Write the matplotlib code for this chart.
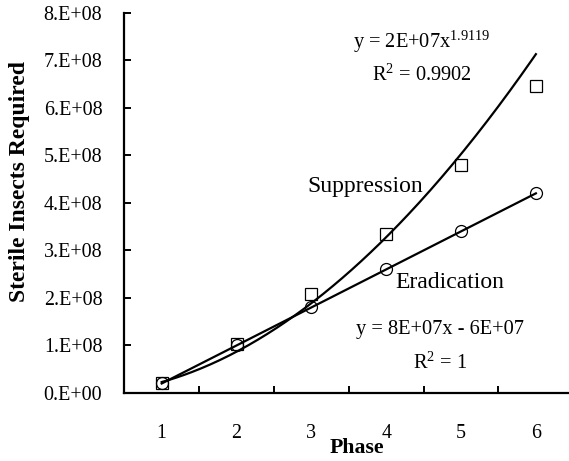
import numpy as np
import matplotlib
matplotlib.use("Agg")
import matplotlib.pyplot as plt
from matplotlib.ticker import FixedLocator

# data
phase = [1, 2, 3, 4, 5, 6]
suppression = [2.0e7, 1.03e8, 2.08e8, 3.35e8, 4.80e8, 6.45e8]
eradication = [2.0e7, 1.0e8, 1.8e8, 2.6e8, 3.4e8, 4.2e8]
y_ticks = [0, 1e8, 2e8, 3e8, 4e8, 5e8, 6e8, 7e8, 8e8]
y_tick_labels = ["0.E+00", "1.E+08", "2.E+08", "3.E+08", "4.E+08",
                 "5.E+08", "6.E+08", "7.E+08", "8.E+08"]

plt.rcParams['font.family'] = ['Liberation Serif', 'DejaVu Serif']
plt.rcParams['mathtext.fontset'] = 'custom'
plt.rcParams['mathtext.rm'] = 'Liberation Serif'
fs = 14.4      # tick labels
fs_eq = 14.7   # trendline equations
fs_lab = 17    # series names
fs_ax = 15.7   # axis titles

fig = plt.figure(figsize=(5.69, 4.61), dpi=100)
ax = fig.add_axes([124.3 / 569, 68 / 461, 449 / 569, 380.3 / 461])

x = np.array(phase, dtype=float)
ys = np.array(suppression)
ye = np.array(eradication)

# trend lines (power fit for suppression, linear for eradication)
b, ln_a = np.polyfit(np.log(x), np.log(ys), 1)
xs = np.linspace(1, 6, 200)
ax.plot(xs, np.exp(ln_a) * xs ** b, color='black', lw=1.6)
m, c = np.polyfit(x, ye, 1)
ax.plot([1, 6], [m * 1 + c, m * 6 + c], color='black', lw=1.6)

ax.plot(x, ys, linestyle='none', marker='s', markersize=8.6,
        markerfacecolor='none', markeredgecolor='black', markeredgewidth=0.9)
ax.plot(x, ye, linestyle='none', marker='o', markersize=8.6,
        markerfacecolor='none', markeredgecolor='black', markeredgewidth=0.9)

ax.set_xlim(0.5, 6.5)
ax.set_ylim(0, 8e8)
for s in ['top', 'right']:
    ax.spines[s].set_visible(False)
for s in ['left', 'bottom']:
    ax.spines[s].set_linewidth(1.6)

ax.set_yticks(y_ticks)
ax.set_yticklabels(y_tick_labels, fontsize=fs)
ax.tick_params(axis='y', direction='in', length=5, width=1.4, pad=15.8)

ax.set_xticks(phase)
ax.set_xticklabels([str(p) for p in phase], fontsize=fs)
ax.xaxis.set_minor_locator(FixedLocator([p + 0.5 for p in phase]))
ax.tick_params(axis='x', which='major', length=0, pad=22)
ax.tick_params(axis='x', which='minor', direction='in', length=5, width=1.4)

ax.set_xlabel("Phase", fontsize=fs_ax, fontweight='bold')
ax.xaxis.set_label_coords(0.519, -0.118)
ax.set_ylabel("Sterile Insects Required", fontsize=17, fontweight='bold')
ax.yaxis.set_label_coords(-0.21, 0.555)

ax.text(4.48, 7.39e8, "y = 2E+07x$^{1.9119}$", fontsize=fs_eq,
        ha='center', va='center')
ax.text(4.48, 6.69e8, "R$^{2}$ = 0.9902", fontsize=fs_eq,
        ha='center', va='center')
ax.text(3.72, 4.34e8, "Suppression", fontsize=fs_lab, ha='center', va='center')
ax.text(4.855, 2.32e8, "Eradication", fontsize=fs_lab, ha='center', va='center')
ax.text(4.72, 1.33e8, "y = 8E+07x - 6E+07", fontsize=fs_eq, ha='center', va='center')
ax.text(4.72, 0.63e8, "R$^{2}$ = 1", fontsize=fs_eq,
        ha='center', va='center')

fig.savefig("out.png", dpi=100)
